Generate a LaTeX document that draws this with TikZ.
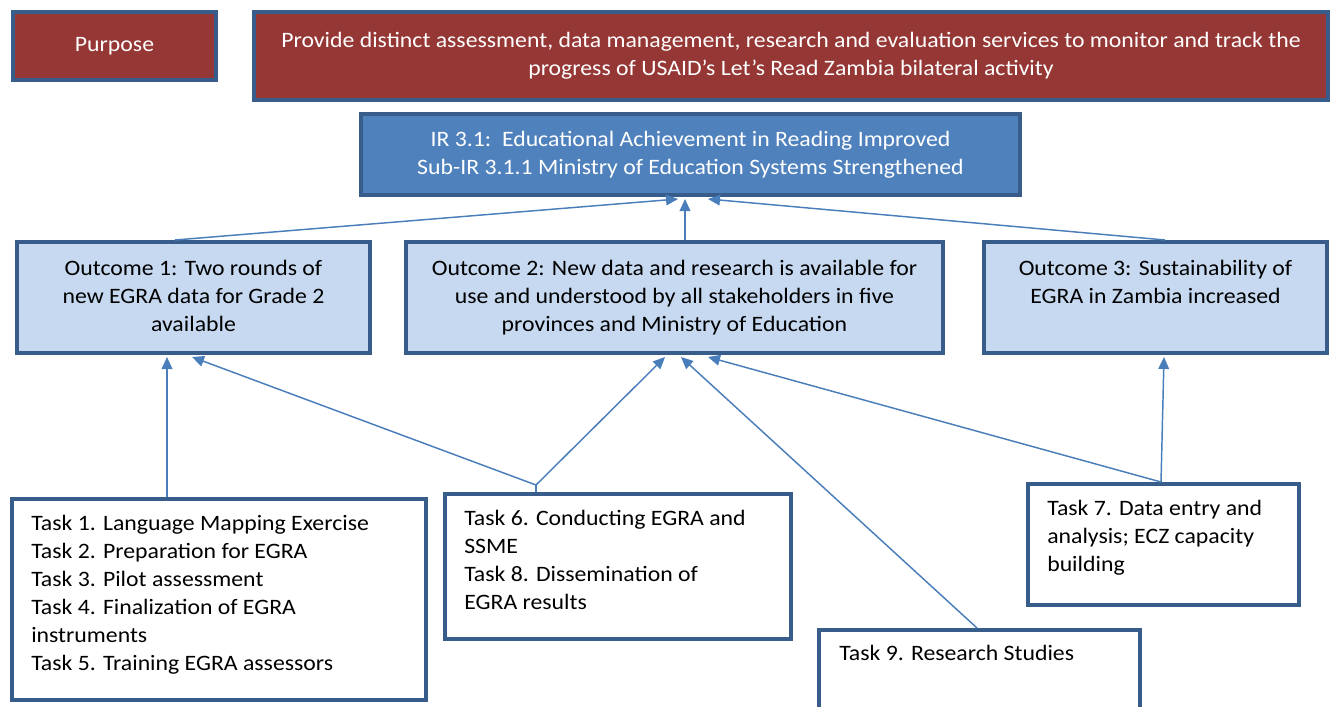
\documentclass[tikz,border=0pt]{standalone}
\usepackage{fontspec}
\setmainfont{Carlito}[FakeStretch=1.08]
\usetikzlibrary{arrows.meta,calc}
\definecolor{purposered}{RGB}{149,55,53}
\definecolor{frameblue}{RGB}{56,93,138}
\definecolor{irblue}{RGB}{79,129,189}
\definecolor{outfill}{RGB}{198,217,241}
\definecolor{linkblue}{RGB}{74,126,187}
\begin{document}
\begin{tikzpicture}[x=0.75pt,y=-0.75pt,
  font=\fontsize{16.5}{21}\selectfont,
  box/.style={draw=frameblue, line width=3pt, rectangle, inner sep=0pt, anchor=north west},
  redbox/.style={box, fill=purposered},
  irbox/.style={box, fill=irblue},
  outbox/.style={box, fill=outfill},
  taskbox/.style={box, fill=white},
  boxtext/.style={inner sep=0pt, align=center},
  tasktext/.style={inner sep=0pt, align=left, anchor=north west},
  link/.style={draw=linkblue, line width=1.1pt},
  arr/.style={link, -{Triangle[length=9pt,width=8pt]}}]
\clip (0,0) rectangle (1333,706);
\useasboundingbox (0,0) rectangle (1333,706);

% top row: purpose statement
\node[redbox, minimum width=203*0.75pt, minimum height=68*0.75pt] (purpose) at (11,10) {};
\node[boxtext, text=white] (purposetxt) at (purpose.center) {Purpose};
\node[redbox, minimum width=1074*0.75pt, minimum height=88*0.75pt] (provide) at (252,10) {};
\node[boxtext, text=white] (providetxt) at (provide.center)
  {Provide distinct assessment, data management, research and evaluation services to monitor and track the\\
   progress of USAID’s Let’s Read Zambia bilateral activity};

% intermediate result
\node[irbox, minimum width=659*0.75pt, minimum height=81*0.75pt] (ir) at (359,112) {};
\node[boxtext, text=white] (irtxt) at (ir.center)
  {IR 3.1:\ \ Educational Achievement in Reading Improved\\
   Sub-IR 3.1.1 Ministry of Education Systems Strengthened};

% outcomes
\node[outbox, minimum width=353*0.75pt, minimum height=111*0.75pt] (out1) at (15,240) {};
\node[outbox, minimum width=537*0.75pt, minimum height=111*0.75pt] (out2) at (404,240) {};
\node[outbox, minimum width=343*0.75pt, minimum height=111*0.75pt] (out3) at (982,240) {};
\node[boxtext, anchor=north] (out1txt) at ($(out1.north)+(0,20)$)
  {Outcome 1: Two rounds of\\ new EGRA data for Grade 2\\ available};
\node[boxtext, anchor=north] (out2txt) at ($(out2.north)+(0,20)$)
  {Outcome 2: New data and research is available for\\ use and understood by all stakeholders in five\\ provinces and Ministry of Education};
\node[boxtext, anchor=north] (out3txt) at ($(out3.north)+(0,20)$)
  {Outcome 3: Sustainability of\\ EGRA in Zambia increased};

% tasks
\node[taskbox, minimum width=414*0.75pt, minimum height=201*0.75pt] (t1) at (10,497) {};
\node[taskbox, minimum width=346*0.75pt, minimum height=145*0.75pt] (t6) at (443,492) {};
\node[taskbox, minimum width=271*0.75pt, minimum height=121*0.75pt] (t7) at (1026,482) {};
\node[taskbox, minimum width=321*0.75pt, minimum height=120*0.75pt] (t9) at (817,628) {};
\node[tasktext] (t1txt) at ($(t1.north west)+(21,18)$)
  {Task 1. Language Mapping Exercise\\ Task 2. Preparation for EGRA\\ Task 3. Pilot assessment\\
   Task 4. Finalization of EGRA\\ instruments\\ Task 5. Training EGRA assessors};
\node[tasktext] (t6txt) at ($(t6.north west)+(21,18)$)
  {Task 6. Conducting EGRA and\\ SSME\\ Task 8. Dissemination of\\ EGRA results};
\node[tasktext] (t7txt) at ($(t7.north west)+(21,18)$)
  {Task 7. Data entry and\\ analysis; ECZ capacity\\ building};
\node[tasktext] (t9txt) at ($(t9.north west)+(22,17)$) {Task 9. Research Studies};

% joint point of the two links leaving tasks 6 and 8
\coordinate (vjoin) at ($(t6.north west)+(93,-7)$);

% outcomes to the intermediate result
\draw[arr] ($(out1.north west)+(160,0)$) -- ($(ir.south west)+(319,2)$);
\draw[arr] ($(out2.north west)+(281,0)$) -- ($(ir.south west)+(326,2)$);
\draw[arr] ($(out3.north west)+(183,0)$) -- ($(ir.south west)+(349,2)$);

% tasks to outcomes
\draw[arr] ($(t1.north west)+(157,0)$) -- ($(out1.south west)+(152,2)$);
\draw[link] ($(t6.north west)+(93,0)$) -- (vjoin);
\draw[arr] (vjoin) -- ($(out1.south west)+(177,2)$);
\draw[arr] (vjoin) -- ($(out2.south west)+(261,2)$);
\draw[arr] ($(t9.north west)+(160,0)$) -- ($(out2.south west)+(277,2)$);
\draw[arr] ($(t7.north west)+(135,0)$) -- ($(out2.south west)+(304,2)$);
\draw[arr] ($(t7.north west)+(135,0)$) -- ($(out3.south west)+(182,2)$);
\end{tikzpicture}
\end{document}
